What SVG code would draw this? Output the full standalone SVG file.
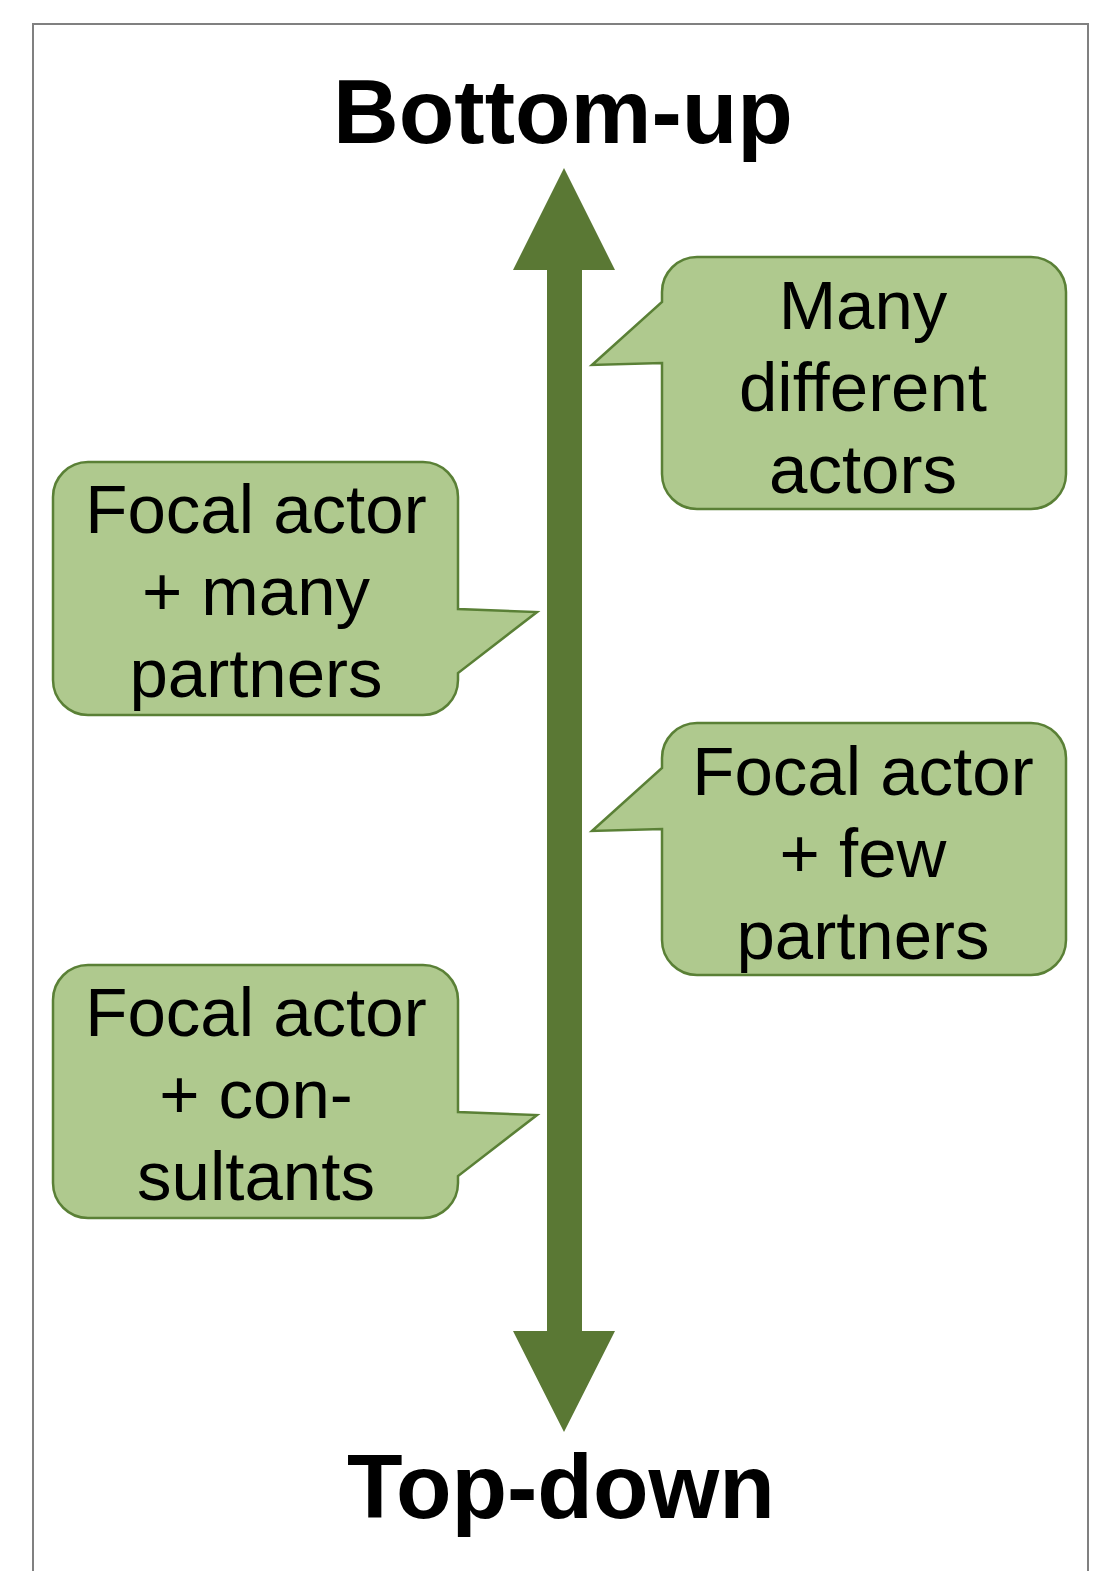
<svg xmlns="http://www.w3.org/2000/svg" width="1101" height="1571" viewBox="0 0 1101 1571">
<style>
.callout{fill:#afc98e;stroke:#5a8036;stroke-width:2.5;stroke-linejoin:miter}
.lbl{font-family:"Liberation Sans",Arial,sans-serif;font-size:69px;fill:#000;text-anchor:middle}
.title{font-family:"Liberation Sans",Arial,sans-serif;font-size:91px;font-weight:bold;fill:#000;text-anchor:middle}
</style>
<rect x="0" y="0" width="1101" height="1571" fill="#ffffff"/>
<rect x="33" y="24" width="1055" height="1600" fill="none" stroke="#808080" stroke-width="2"/>
<g id="connectors">
<polygon id="axis" points="564,168 615,270 582,270 582,1331 615,1331 564,1432 513,1331 547,1331 547,270 513,270" fill="#5a7834"/>
</g>
<g id="title-top"><text class="title" x="563" y="143">Bottom-up</text></g>
<g id="title-bottom"><text class="title" x="561" y="1518">Top-down</text></g>
<g id="many-different-actors">
<path class="callout" d="M697,257 H1031 A35,35 0 0 1 1066,292 V474 A35,35 0 0 1 1031,509 H697 A35,35 0 0 1 662,474 V363 L592,365 L662,302 V292 A35,35 0 0 1 697,257 Z"/>
<text class="lbl" x="863" y="329">Many</text>
<text class="lbl" x="863" y="411">different</text>
<text class="lbl" x="863" y="493">actors</text>
</g>
<g id="focal-many-partners">
<path class="callout" d="M88,462 H423 A35,35 0 0 1 458,497 V609 L537,612 L458,673 V680 A35,35 0 0 1 423,715 H88 A35,35 0 0 1 53,680 V497 A35,35 0 0 1 88,462 Z"/>
<text class="lbl" x="256" y="533">Focal actor</text>
<text class="lbl" x="256" y="615">+ many</text>
<text class="lbl" x="256" y="697">partners</text>
</g>
<g id="focal-few-partners">
<path class="callout" d="M697,723 H1031 A35,35 0 0 1 1066,758 V940 A35,35 0 0 1 1031,975 H697 A35,35 0 0 1 662,940 V829 L592,831 L662,768 V758 A35,35 0 0 1 697,723 Z"/>
<text class="lbl" x="863" y="795">Focal actor</text>
<text class="lbl" x="863" y="877">+ few</text>
<text class="lbl" x="863" y="959">partners</text>
</g>
<g id="focal-consultants">
<path class="callout" d="M88,965 H423 A35,35 0 0 1 458,1000 V1112 L537,1115 L458,1176 V1183 A35,35 0 0 1 423,1218 H88 A35,35 0 0 1 53,1183 V1000 A35,35 0 0 1 88,965 Z"/>
<text class="lbl" x="256" y="1036">Focal actor</text>
<text class="lbl" x="256" y="1118">+ con-</text>
<text class="lbl" x="256" y="1200">sultants</text>
</g>
</svg>
